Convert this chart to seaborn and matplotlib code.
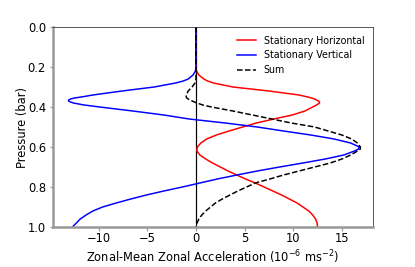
import numpy as np
import pandas as pd
import matplotlib
matplotlib.use("Agg")
import matplotlib.pyplot as plt
import seaborn as sns

# pressure levels (bar)
pressure = [0.00, 0.05, 0.10, 0.15, 0.20, 0.22, 0.24, 0.26, 0.27, 0.28, 0.30, 0.32,
            0.34, 0.35, 0.355, 0.36, 0.365, 0.37, 0.375, 0.38, 0.39, 0.40, 0.42, 0.44,
            0.46, 0.48, 0.50, 0.52, 0.54, 0.56, 0.58, 0.60, 0.61, 0.62, 0.64, 0.66,
            0.68, 0.70, 0.72, 0.74, 0.76, 0.78, 0.80, 0.82, 0.84, 0.86, 0.88, 0.90,
            0.92, 0.94, 0.96, 0.98, 1.00]

# zonal-mean zonal acceleration (1e-6 m s^-2)
horizontal = [0.0, 0.0, 0.0, 0.0, 0.0, 0.05, 0.3, 0.8, 1.2, 1.8, 3.8, 7.5,
              10.6, 11.5, 11.9, 12.2, 12.4, 12.6, 12.7, 12.7, 12.4, 12.0, 11.2, 9.9,
              8.0, 6.2, 4.8, 3.4, 2.1, 1.1, 0.5, 0.15, 0.1, 0.1, 0.4, 1.0,
              1.7, 2.5, 3.3, 4.2, 5.1, 6.1, 7.0, 7.9, 8.8, 9.6, 10.4, 11.0,
              11.6, 12.0, 12.3, 12.45, 12.5]

vertical = [0.0, 0.0, 0.0, 0.0, 0.0, -0.05, -0.3, -0.8, -1.3, -2.1, -4.3, -7.6,
            -10.6, -11.8, -12.5, -12.9, -13.1, -13.1, -12.9, -12.6, -11.5, -9.9, -6.5, -3.3,
            -0.7, 3.0, 6.3, 9.0, 11.8, 14.2, 15.9, 16.8, 16.7, 16.3, 15.2, 13.3,
            11.0, 8.6, 6.3, 4.2, 2.2, 0.4, -1.4, -3.3, -5.1, -6.7, -8.2, -9.6,
            -10.6, -11.3, -11.9, -12.3, -12.7]

total = [0.0, 0.0, 0.0, 0.0, 0.0, 0.0, 0.0, 0.0, -0.05, -0.1, -0.4, -0.8,
         -1.0, -1.0, -0.95, -0.8, -0.6, -0.4, -0.15, 0.1, 0.7, 1.6, 3.8, 5.8,
         7.8, 9.8, 12.2, 13.6, 15.0, 16.0, 16.6, 16.9, 16.9, 16.6, 15.9, 15.0,
         13.8, 12.2, 10.6, 9.0, 7.6, 6.1, 5.2, 4.3, 3.5, 2.7, 2.0, 1.5,
         1.0, 0.6, 0.3, 0.1, 0.0]

df = pd.DataFrame({"pressure": pressure, "horizontal": horizontal,
                   "vertical": vertical, "total": total})

fig = plt.figure(figsize=(415 / 72, 267 / 72), dpi=72)
ax = fig.add_axes([53 / 415, 40 / 267, 320 / 415, 200 / 267])

ax.axvline(0, color="black", lw=1.2, zorder=1)
sns.lineplot(data=df, x="horizontal", y="pressure", orient="y", sort=False,
             color="red", lw=1.5, label="Stationary Horizontal", ax=ax)
sns.lineplot(data=df, x="vertical", y="pressure", orient="y", sort=False,
             color="blue", lw=1.5, label="Stationary Vertical", ax=ax)
sns.lineplot(data=df, x="total", y="pressure", orient="y", sort=False,
             color="black", lw=1.5, ls="--", label="Sum", ax=ax)

ax.set_ylim(1.0, 0.0)
ax.set_xlim(-14.7, 18.2)
ax.set_xticks([-10, -5, 0, 5, 10, 15])
ax.set_yticks([0.0, 0.2, 0.4, 0.6, 0.8, 1.0])
ax.set_xlabel(r"Zonal-Mean Zonal Acceleration ($10^{-6}$ ms$^{-2}$)", fontsize=11.5, labelpad=3.5)
ax.set_ylabel("Pressure (bar)", fontsize=11.5, labelpad=-1)
ax.tick_params(labelsize=11.5, color="0.6", width=1.2, length=3.5)
ax.tick_params(axis="x", pad=1.5)

for side in ["left", "bottom"]:
    ax.spines[side].set_color("0.6")
    ax.spines[side].set_linewidth(2.5)
for side in ["top", "right"]:
    ax.spines[side].set_color("0.2")
    ax.spines[side].set_linewidth(0.8)

ax.legend(loc="upper right", frameon=False, fontsize=9.5)

fig.savefig("out.png", dpi=72)
